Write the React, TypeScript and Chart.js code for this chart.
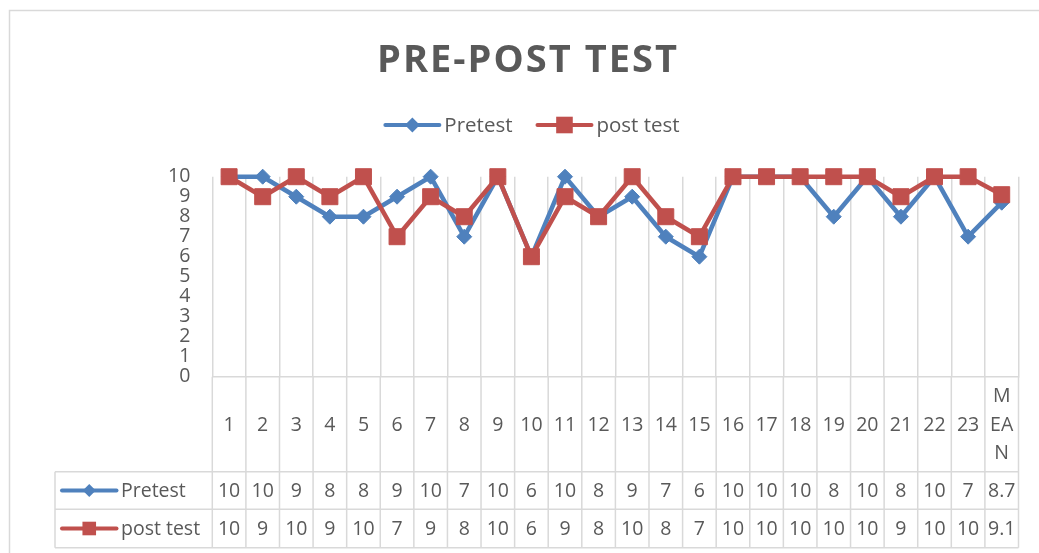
import React, { useEffect, useRef } from "react";
import { Chart, registerables } from "chart.js";

Chart.register(...registerables);

// ---------- data ----------
const chartTitle = "PRE-POST TEST";
const categories: (string | string[])[] = [
  "1", "2", "3", "4", "5", "6", "7", "8", "9", "10", "11", "12",
  "13", "14", "15", "16", "17", "18", "19", "20", "21", "22", "23",
  ["M", "EA", "N"],
];
const seriesNames = ["Pretest", "post test"];
const pretest = [10, 10, 9, 8, 8, 9, 10, 7, 10, 6, 10, 8, 9, 7, 6, 10, 10, 10, 8, 10, 8, 10, 7, 8.7];
const postTest = [10, 9, 10, 9, 10, 7, 9, 8, 10, 6, 9, 8, 10, 8, 7, 10, 10, 10, 10, 10, 9, 10, 10, 9.1];
const yMin = 0;
const yMax = 10;
const yStep = 1;

// ---------- styles ----------
const W = 1039;
const H = 553;
const BLUE = "#4F81BD";
const RED = "#C0504D";
const GRID = "#d9d9d9";
const TEXT = "#595959";
const FONT = "'Open Sans', 'Noto Sans', sans-serif";
const seriesColors = [BLUE, RED];
const seriesMarkers = ["diamond", "square"];

function drawMarker(ctx: CanvasRenderingContext2D, kind: string, x: number, y: number, size: number, color: string) {
  ctx.save();
  ctx.fillStyle = color;
  ctx.beginPath();
  if (kind === "diamond") {
    ctx.moveTo(x - size, y);
    ctx.lineTo(x, y - size);
    ctx.lineTo(x + size, y);
    ctx.lineTo(x, y + size);
    ctx.closePath();
  } else {
    ctx.rect(x - size, y - size, size * 2, size * 2);
  }
  ctx.fill();
  ctx.restore();
}

function drawLegendSymbol(ctx: CanvasRenderingContext2D, i: number, x0: number, x1: number, y: number, lw: number, ms: number) {
  ctx.save();
  ctx.strokeStyle = seriesColors[i];
  ctx.lineWidth = lw;
  ctx.lineCap = "round";
  ctx.beginPath();
  ctx.moveTo(x0, y);
  ctx.lineTo(x1, y);
  ctx.stroke();
  ctx.restore();
  drawMarker(ctx, seriesMarkers[i], (x0 + x1) / 2, y, ms, seriesColors[i]);
}

const decorPlugin = {
  id: "decor",
  beforeDraw(chart: any) {
    const ctx: CanvasRenderingContext2D = chart.ctx;
    ctx.save();
    ctx.fillStyle = "#ffffff";
    ctx.fillRect(0, 0, W, H);
    ctx.strokeStyle = GRID;
    ctx.lineWidth = 1.5;
    ctx.beginPath();
    ctx.moveTo(W + 10, 10.5);
    ctx.lineTo(9.5, 10.5);
    ctx.lineTo(9.5, H + 10);
    ctx.stroke();

    // title
    ctx.fillStyle = TEXT;
    ctx.font = `bold 38px ${FONT}`;
    const base = ctx.measureText(chartTitle).width;
    const target = 300;
    const ls = Math.max(0, (target - base) / (chartTitle.length - 1));
    (ctx as any).letterSpacing = `${ls}px`;
    ctx.textAlign = "left";
    ctx.textBaseline = "alphabetic";
    const tw = base + ls * (chartTitle.length - 1);
    ctx.fillText(chartTitle, 527 - tw / 2, 72);
    (ctx as any).letterSpacing = "0px";

    // top legend
    ctx.font = `20.5px ${FONT}`;
    const symW = 54;
    const gapText = 5;
    const gapItem = 25;
    const widths = seriesNames.map((n) => symW + gapText + ctx.measureText(n).width);
    const total = widths.reduce((a, b) => a + b, 0) + gapItem * (seriesNames.length - 1);
    let lx = 532.5 - total / 2;
    const ly = 125;
    seriesNames.forEach((name, i) => {
      drawLegendSymbol(ctx, i, lx, lx + symW, ly, 4, i === 0 ? 7.5 : 8.3);
      ctx.fillStyle = TEXT;
      ctx.textBaseline = "middle";
      ctx.fillText(name, lx + symW + gapText, ly + 1);
      lx += widths[i] + gapItem;
    });
    ctx.restore();
  },
  afterDraw(chart: any) {
    const ctx: CanvasRenderingContext2D = chart.ctx;
    const xs = chart.scales.x;
    const area = chart.chartArea;
    const n = categories.length;
    const half = (xs.getPixelForValue(1) - xs.getPixelForValue(0)) / 2;
    const left = xs.getPixelForValue(0) - half;
    const right = xs.getPixelForValue(n - 1) + half;
    const top = area.bottom;
    const r1 = top + 95;
    const r2 = r1 + 37.6;
    const r3 = r2 + 38.4;
    const legendLeft = 55;

    ctx.save();
    ctx.strokeStyle = GRID;
    ctx.lineWidth = 1.5;
    ctx.beginPath();
    for (let i = 0; i <= n; i++) {
      const px = left + i * half * 2;
      ctx.moveTo(px, top);
      ctx.lineTo(px, r3);
    }
    [r1, r2, r3].forEach((ry) => {
      ctx.moveTo(legendLeft, ry);
      ctx.lineTo(right, ry);
    });
    ctx.moveTo(legendLeft, r1);
    ctx.lineTo(legendLeft, r3);
    ctx.stroke();

    ctx.fillStyle = TEXT;
    ctx.font = `19.5px ${FONT}`;
    ctx.textAlign = "center";
    ctx.textBaseline = "middle";
    const catMid = (top + r1) / 2 + 1;
    const lh = 28.5;
    categories.forEach((c, i) => {
      const cx = xs.getPixelForValue(i);
      const lines = Array.isArray(c) ? c : [c];
      lines.forEach((t, k) => {
        ctx.fillText(t, cx, catMid + (k - (lines.length - 1) / 2) * lh);
      });
    });
    const rows = [pretest, postTest];
    const rowMid = [(r1 + r2) / 2 + 1, (r2 + r3) / 2 + 1];
    rows.forEach((vals, ri) => {
      vals.forEach((v, i) => {
        ctx.fillText(String(v), xs.getPixelForValue(i), rowMid[ri]);
      });
      drawLegendSymbol(ctx, ri, legendLeft + 7, legendLeft + 61.5, rowMid[ri] - 1, 4, ri === 0 ? 6.5 : 6.8);
      ctx.textAlign = "left";
      ctx.fillStyle = TEXT;
      ctx.fillText(seriesNames[ri], legendLeft + 66, rowMid[ri]);
      ctx.textAlign = "center";
    });
    ctx.restore();
  },
};

export default function App() {
  const ref = useRef<HTMLCanvasElement | null>(null);
  useEffect(() => {
    if (!ref.current) return;
    const chart = new Chart(ref.current, {
      type: "line",
      data: {
        labels: categories as any,
        datasets: [
          {
            label: seriesNames[0],
            data: pretest,
            borderColor: BLUE,
            backgroundColor: BLUE,
            borderWidth: 4.5,
            borderJoinStyle: "round",
            borderCapStyle: "round",
            pointStyle: "rectRot",
            pointRadius: 7.5,
            pointBorderWidth: 1,
            pointBackgroundColor: BLUE,
            pointBorderColor: BLUE,
            tension: 0,
            clip: false as any,
            order: 1,
          },
          {
            label: seriesNames[1],
            data: postTest,
            borderColor: RED,
            backgroundColor: RED,
            borderWidth: 4.5,
            borderJoinStyle: "round",
            borderCapStyle: "round",
            pointStyle: "rect",
            pointRadius: 11.3,
            pointBorderWidth: 1,
            pointBackgroundColor: RED,
            pointBorderColor: RED,
            tension: 0,
            clip: false as any,
            order: 0,
          },
        ],
      },
      options: {
        responsive: false,
        animation: false,
        devicePixelRatio: 1,
        layout: { padding: { top: 176.7, right: 20.5, bottom: 0, left: 0 } },
        plugins: {
          legend: { display: false },
          title: { display: false },
          tooltip: { enabled: false },
        },
        scales: {
          x: {
            type: "category",
            offset: true,
            grid: { display: true, offset: true, color: GRID, lineWidth: 1.5, drawTicks: false },
            border: { display: true, color: GRID, width: 1.5 },
            ticks: { display: false },
            afterFit: (s: any) => {
              s.height = H - 376.7;
            },
          },
          y: {
            min: yMin,
            max: yMax,
            grid: { display: false, drawTicks: false },
            border: { display: false },
            ticks: {
              stepSize: yStep,
              autoSkip: false,
              padding: 22,
              color: TEXT,
              font: { family: FONT, size: 19.5, lineHeight: 1 },
            },
            afterFit: (s: any) => {
              s.width = 212.3;
            },
          },
        },
      },
      plugins: [decorPlugin],
    });
    return () => chart.destroy();
  }, []);
  return (
    <div style={{ position: "absolute", left: 0, top: 0, width: W, height: H }}>
      <canvas ref={ref} width={W} height={H} style={{ display: "block" }} />
    </div>
  );
}
